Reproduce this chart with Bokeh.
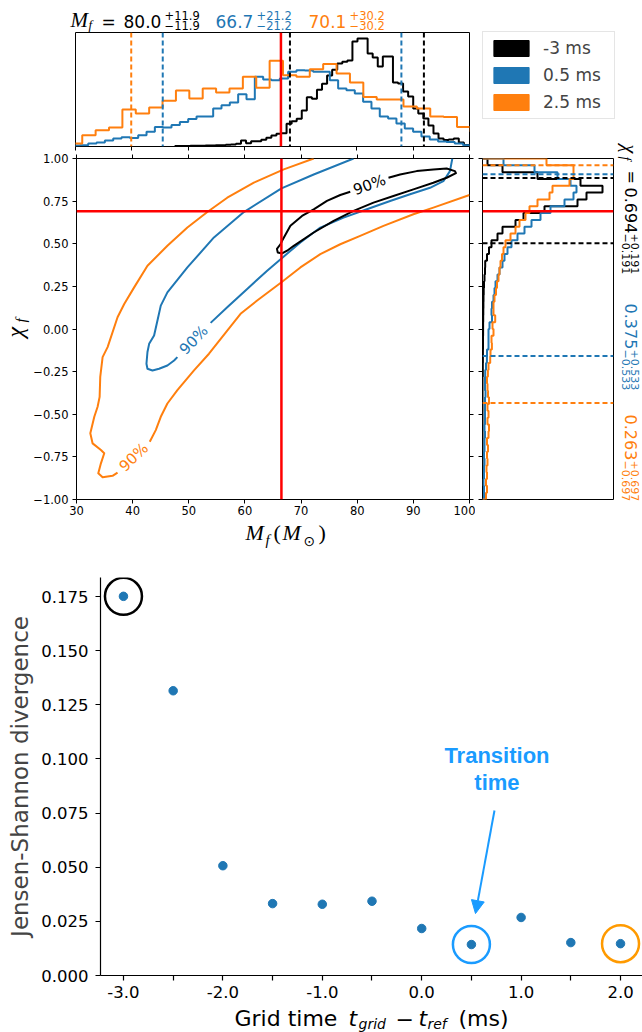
import numpy as np
from bokeh.plotting import figure
from bokeh.models import (Span, Label, LinearAxis, FixedTicker, Legend, LegendItem,
                          Arrow, NormalHead, Range1d, CustomJSTickFormatter,
                          PrintfTickFormatter, ColumnDataSource)
from bokeh.layouts import column, row
from bokeh.embed import file_html
from bokeh.resources import INLINE
from bokeh.core.properties import value

SANS = "DejaVu Sans"
SERIF = "Liberation Serif"
BOLD_SANS = "Liberation Sans"

# ------------------------------------------------------------------ data
series_labels = ["-3 ms", "0.5 ms", "2.5 ms"]
series_colors = ["#000000", "#1f77b4", "#ff7f0e"]

mf_median = [80.0, 66.7, 70.1]
mf_err = [11.9, 21.2, 30.2]
chi_median = [0.694, 0.375, 0.263]
chi_err = [0.191, 0.533, 0.697]
mf_true = 66.5
chi_true = 0.69

# final-mass histograms (step outlines)
mf_bin_start = [47.7, 29.3, 28.82]
mf_bin_width = [0.9, 1.48, 2.378]
mf_counts_black = [0.5, 0.5, 0.5, 0.7, 0.7, 0.7, 1.0, 1.0, 1.3, 1.3,
                   1.7, 2.0, 2.7, 6.0, 3.3, 5.3, 5.3, 6.7, 8.7, 11.0,
                   12.7, 13.3, 22.7, 25.3, 27.7, 36.0, 49.3, 47.7, 56.7, 62.7,
                   71.0, 76.7, 83.0, 84.7, 86.0, 105.0, 108.0, 108.0, 93.0, 89.0,
                   80.0, 90.0, 90.0, 64.0, 63.0, 55.0, 50.0, 38.0, 33.0, 28.0,
                   21.0, 13.0, 8.0, 6.5, 7.0, 8.0, 4.0, 1.5, 0.8]
mf_counts_blue = [1.0, 1.3, 3.0, 4.0, 6.0, 8.0, 9.3, 8.5, 11.3, 14.7,
                  19.5, 19.0, 21.5, 24.5, 27.5, 30.0, 30.0, 38.0, 41.3, 44.0,
                  52.3, 47.3, 69.7, 67.0, 66.3, 68.0, 74.7, 76.3, 76.0, 74.7,
                  74.7, 66.3, 58.0, 56.3, 53.0, 44.7, 38.0, 30.0, 28.0, 23.0,
                  18.0, 14.7, 10.0, 7.0, 5.0, 4.5, 3.0, 1.3]
mf_counts_orange = [3.0, 11.3, 16.3, 19.0, 37.0, 33.0, 39.0, 45.7, 56.0, 48.0,
                    58.0, 54.0, 58.0, 69.7, 58.7, 85.7, 71.3, 69.7, 77.3, 82.5,
                    73.0, 64.0, 49.5, 47.0, 47.0, 40.0, 38.0, 30.0, 29.5, 19.5,
                    15.0]

# final-spin histograms (bins of 0.04 from -1 to 1)
chi_bin_start = -1.0
chi_bin_width = 0.04
chi_counts_black = [0, 0, 0, 0, 0, 0, 0, 0, 0, 0,
                    0, 0, 0, 0, 0, 0, 0, 0, 0.3, 0.3,
                    0.4, 0.4, 0.5, 0.5, 0.6, 0.6, 0.7, 0.8, 0.9, 1.0,
                    1.2, 1.5, 2.0, 2.5, 2.7, 4.5, 6.5, 9.0, 15.0, 20.0,
                    33.0, 41.0, 62.0, 95.0, 104.0, 120.0, 98.0, 55.0, 20.0, 5.0]
chi_counts_blue = [1.5, 1.5, 1.0, 1.5, 1.5, 2.0, 1.5, 2.0, 2.0, 2.5,
                   2.0, 2.5, 2.5, 2.5, 2.5, 3.0, 2.5, 2.5, 2.7, 3.5,
                   4.4, 4.5, 6.0, 6.0, 6.0, 7.0, 9.5, 9.0, 9.5, 11.0,
                   12.0, 13.0, 15.0, 17.0, 20.0, 22.0, 25.0, 29.0, 35.0, 42.0,
                   49.0, 58.0, 68.0, 82.0, 91.0, 94.0, 88.0, 75.0, 52.0, 21.0]
chi_counts_orange = [3.5, 4.5, 3.5, 4.5, 4.0, 5.0, 4.5, 5.5, 4.5, 6.0,
                     6.5, 5.0, 6.0, 5.0, 6.5, 5.5, 5.0, 4.5, 5.4, 6.0,
                     7.7, 8.0, 9.4, 9.0, 11.0, 10.0, 12.7, 11.0, 11.0, 12.0,
                     13.5, 14.5, 16.0, 17.0, 18.0, 19.5, 21.0, 23.0, 28.0, 33.0,
                     37.0, 43.0, 47.0, 55.0, 67.0, 70.0, 87.0, 91.0, 91.0, 64.0]

# 90% credible contours, split where the inline "90%" labels sit
contour_black_mf = [[85.57, 87.64, 90.60, 93.56, 95.93, 97.41, 97.59, 95.93, 93.56, 90.01,
                     86.45, 82.90, 79.35, 75.80, 72.25, 68.70, 67.51, 66.62, 65.85, 65.70,
                     66.33, 66.62, 68.10, 70.17, 72.25, 74.61, 76.98, 78.76]]
contour_black_chi = [[0.887, 0.906, 0.926, 0.936, 0.941, 0.926, 0.914, 0.887, 0.858, 0.819,
                      0.780, 0.741, 0.693, 0.634, 0.566, 0.488, 0.459, 0.443, 0.449, 0.470,
                      0.497, 0.517, 0.605, 0.663, 0.702, 0.751, 0.786, 0.805]]
contour_blue_mf = [[79.35, 72.25, 66.51, 59.81, 54.48, 49.75, 46.19, 45.01, 44.42, 43.82,
                    42.94, 42.64, 42.46, 42.64, 43.53, 44.71, 46.19, 47.38, 47.97],
                   [53.89, 56.85, 60.40, 63.96, 66.51, 69.88, 73.43, 77.57, 81.72, 85.86,
                    89.41, 92.97, 95.34, 96.52, 96.94]]
contour_blue_chi = [[1.00, 0.906, 0.825, 0.686, 0.537, 0.361, 0.215, 0.137, 0.050, -0.038,
                     -0.087, -0.135, -0.204, -0.233, -0.243, -0.233, -0.214, -0.185, -0.165],
                    [0.036, 0.128, 0.235, 0.342, 0.414, 0.507, 0.595, 0.653, 0.702, 0.751,
                     0.790, 0.828, 0.867, 0.926, 1.00]]
contour_orange_mf = [[72.25, 66.92, 61.59, 56.85, 53.30, 49.75, 46.19, 42.64, 40.27, 38.50,
                      37.31, 35.54, 34.65, 34.23, 34.12, 33.76, 33.17, 32.46, 32.87, 34.35,
                      34.94, 34.35, 33.88, 34.65, 36.42, 37.31],
                     [43.05, 44.12, 45.01, 46.19, 47.97, 50.93, 53.60, 56.85, 59.22, 62.18,
                      66.51, 69.88, 73.43, 76.98, 80.53, 84.68, 90.01, 93.56, 100.0]]
contour_orange_chi = [[1.00, 0.936, 0.858, 0.770, 0.686, 0.595, 0.488, 0.371, 0.244, 0.147,
                       0.069, -0.106, -0.165, -0.281, -0.398, -0.456, -0.515, -0.612, -0.671, -0.710,
                       -0.729, -0.788, -0.846, -0.869, -0.861, -0.842],
                      [-0.661, -0.593, -0.515, -0.437, -0.359, -0.243, -0.145, -0.009, 0.089, 0.167,
                       0.274, 0.361, 0.439, 0.497, 0.546, 0.605, 0.673, 0.712, 0.786]]
contour_label_mf = [82.2, 50.9, 40.2]
contour_label_chi = [0.846, -0.065, -0.752]
contour_label_angle_deg = [20, 46, 44]

# Jensen-Shannon divergence vs grid time
grid_times = [-3.0, -2.5, -2.0, -1.5, -1.0, -0.5, 0.0, 0.5, 1.0, 1.5, 2.0]
js_divergence = [0.1751, 0.1315, 0.0507, 0.0332, 0.0329, 0.0343, 0.0217, 0.0143, 0.0268, 0.0152, 0.0147]
highlight_idx = [0, 7, 10]
highlight_colors = ["#000000", "#1a9bff", "#ff9a00"]
annot_color = "#1a9bff"

mf_ticks = [30, 40, 50, 60, 70, 80, 90, 100]
chi_ticks = [-1.0, -0.75, -0.5, -0.25, 0.0, 0.25, 0.5, 0.75, 1.0]
t_ticks = [-3.0, -2.5, -2.0, -1.5, -1.0, -0.5, 0.0, 0.5, 1.0, 1.5, 2.0]
js_ticks = [0.0, 0.025, 0.05, 0.075, 0.1, 0.125, 0.15, 0.175]

MID = 0.35  # distance from alphabetic baseline to the text's vertical middle, in em


# ------------------------------------------------------------------ helpers
def step_outline(start, width, counts):
    c = np.asarray(counts, dtype=float)
    edges = start + width * np.arange(len(c) + 1)
    xs = np.repeat(edges, 2)
    ys = np.concatenate([[0.0], np.repeat(c, 2), [0.0]])
    return xs, ys


def make_fig(no_align=False, **kw):
    if no_align:
        try:
            return figure(frame_align=False, **kw)
        except Exception:
            pass
    return figure(**kw)


def base_fig(w, h, xr, yr, bl, br, bt, bb, outline=True, no_align=False):
    p = make_fig(no_align=no_align, width=w, height=h, x_range=Range1d(*xr), y_range=Range1d(*yr),
                 output_backend="svg", toolbar_location=None, title=None,
                 x_axis_location=None, y_axis_location=None,
                 min_border_left=bl, min_border_right=br,
                 min_border_top=bt, min_border_bottom=bb)
    p.grid.visible = False
    p.background_fill_color = "white"
    p.border_fill_color = "white"
    if outline:
        p.outline_line_color = "black"
        p.outline_line_width = 1
    else:
        p.outline_line_color = None
    return p


def strip(x0, y0, w, h):
    """Text-only panel whose data coordinates equal page pixels."""
    p = make_fig(no_align=True, width=w, height=h, x_range=Range1d(x0, x0 + w),
                 y_range=Range1d(y0 + h, y0),
                 output_backend="svg", toolbar_location=None, title=None,
                 x_axis_location=None, y_axis_location=None, min_border=0)
    p.grid.visible = False
    p.outline_line_color = None
    p.background_fill_color = "white"
    p.border_fill_color = "white"
    return p


def add_axis(p, side, ticks, labels=True, size="11px", standoff=4, tick_out=4,
             formatter=None, line=False, line_width=1):
    ax = LinearAxis(ticker=FixedTicker(ticks=ticks))
    ax.major_tick_in = 0
    ax.major_tick_out = tick_out
    ax.minor_tick_in = 0
    ax.minor_tick_out = 0
    ax.major_tick_line_color = "black"
    ax.major_tick_line_width = line_width
    ax.axis_line_color = "black" if line else None
    ax.axis_line_width = line_width
    if labels:
        ax.major_label_text_font = SANS
        ax.major_label_text_font_size = size
        ax.major_label_text_color = "black"
        ax.major_label_standoff = standoff
    else:
        ax.major_label_text_color = None
        ax.major_label_text_font_size = "1px"
        ax.major_label_standoff = 0
    if formatter is not None:
        ax.formatter = formatter
    p.add_layout(ax, side)
    return ax


def stxt(p, x, y, text, size, color="black", font=SANS, style="normal", rot=0):
    """x, y: start of the text on its alphabetic baseline (page pixels).
    rot: 0 horizontal, -1 reading downwards, +1 reading upwards."""
    d = MID * size
    if rot == 0:
        ax_, ay_, ang = x, y - d, 0.0
    elif rot < 0:
        ax_, ay_, ang = x + d, y, -np.pi / 2
    else:
        ax_, ay_, ang = x - d, y, np.pi / 2
    p.add_layout(Label(x=ax_, y=ay_, text=text, text_font=font, text_font_size=f"{size}px",
                       text_color=color, text_font_style=style, angle=ang,
                       text_align="left", text_baseline="middle"))


mf_counts = [mf_counts_black, mf_counts_blue, mf_counts_orange]
chi_counts = [chi_counts_black, chi_counts_blue, chi_counts_orange]

# ------------------------------------------------------------------ top strip: M_f summary
T1 = strip(0, 0, 475, 32)
stxt(T1, 70, 26.5, "M", 21, font=SERIF, style="italic")
stxt(T1, 88, 28.5, "f", 13, font=SERIF, style="italic")
stxt(T1, 101, 27, "=", 17)
num_x = [123, 215, 308]
sup_x = [164, 256, 349]
for i in range(3):
    stxt(T1, num_x[i], 27, f"{mf_median[i]:.1f}", 17, color=series_colors[i])
    stxt(T1, sup_x[i], 19, f"+{mf_err[i]:.1f}", 11.5, color=series_colors[i])
    stxt(T1, sup_x[i], 29, f"\u2212{mf_err[i]:.1f}", 11.5, color=series_colors[i])

# ------------------------------------------------------------------ top histogram (M_f)
pA = base_fig(475, 120, (30, 100), (0, 114), 75, 6, 0, 6)
add_axis(pA, "below", mf_ticks, labels=False, tick_out=4)
for i in range(3):
    xs, ys = step_outline(mf_bin_start[i], mf_bin_width[i], mf_counts[i])
    pA.line(xs, ys, line_color=series_colors[i], line_width=2)
for i in range(3):
    for loc in (mf_median[i] - mf_err[i], mf_median[i] + mf_err[i]):
        pA.add_layout(Span(location=loc, dimension="height", line_color=series_colors[i],
                           line_dash="5 3", line_width=2))
pA.add_layout(Span(location=mf_true, dimension="height", line_color="red", line_width=2.5))

# ------------------------------------------------------------------ y-label strip (chi_f)
T4 = strip(0, 152, 30, 367)
stxt(T4, 23, 337, "\u03c7", 24, font=SERIF, style="italic", rot=1)
stxt(T4, 26, 322, "f", 15, font=SERIF, style="italic", rot=1)

# ------------------------------------------------------------------ main 2D panel
pC = base_fig(445, 367, (30, 100), (-1, 1), 45, 6, 6, 20)
add_axis(pC, "below", mf_ticks, labels=True, size="11.5px", standoff=2)
add_axis(pC, "left", chi_ticks, labels=True, size="11.5px", standoff=4,
         formatter=CustomJSTickFormatter(code="return tick.toFixed(2).replace('-', '\u2212');"))
add_axis(pC, "above", mf_ticks, labels=False)
add_axis(pC, "right", chi_ticks, labels=False)

contours = [(contour_orange_mf, contour_orange_chi, series_colors[2]),
            (contour_blue_mf, contour_blue_chi, series_colors[1]),
            (contour_black_mf, contour_black_chi, series_colors[0])]
for mfs, chis, col in contours:
    for xs, ys in zip(mfs, chis):
        pC.line(xs, ys, line_color=col, line_width=2, line_join="round")
lab_src = ColumnDataSource(dict(
    x=contour_label_mf, y=contour_label_chi, t=["90%"] * 3,
    a=[np.deg2rad(d) for d in contour_label_angle_deg],
    c=[series_colors[0], series_colors[1], series_colors[2]]))
pC.text(x="x", y="y", text="t", angle="a", text_color="c", source=lab_src,
        text_font=value(SANS), text_font_size=value("15px"),
        text_align="center", text_baseline="middle")
pC.add_layout(Span(location=mf_true, dimension="height", line_color="red", line_width=2.5))
pC.add_layout(Span(location=chi_true, dimension="width", line_color="red", line_width=2.5))

# ------------------------------------------------------------------ x-label strip  M_f(M_sun)
T3 = strip(0, 519, 475, 31)
stxt(T3, 245, 540, "M", 22, font=SERIF, style="italic")
stxt(T3, 265, 545, "f", 15, font=SERIF, style="italic")
stxt(T3, 273, 540, "(", 22, font=SERIF)
stxt(T3, 282, 540, "M", 22, font=SERIF, style="italic")
stxt(T3, 303, 545, "\u2299", 14, font=SANS)
stxt(T3, 318, 540, ")", 22, font=SERIF)

# ------------------------------------------------------------------ legend panel
pB = base_fig(140, 152, (0, 1), (0, 1), 0, 0, 0, 0, outline=False, no_align=True)
items = []
for lab, col in zip(series_labels, series_colors):
    r = pB.quad(left=[5], right=[6], bottom=[5], top=[6], fill_color=col, line_color=col)
    items.append(LegendItem(label=lab, renderers=[r]))
legend = Legend(items=items, location=(7, 33), padding=6, spacing=7, margin=0,
                glyph_width=44, glyph_height=20, label_height=20, label_width=65,
                label_standoff=10, label_text_font=SANS, label_text_font_size="17px",
                border_line_color="#cccccc", border_line_width=1,
                background_fill_color="white", background_fill_alpha=1.0)
pB.add_layout(legend)

# ------------------------------------------------------------------ right histogram (chi_f)
pD = base_fig(140, 398, (0, 131), (-1, 1), 7, 2, 6, 51)
add_axis(pD, "left", chi_ticks, labels=False)
for i in range(3):
    ys, xs = step_outline(chi_bin_start, chi_bin_width, chi_counts[i])
    pD.line(xs, ys, line_color=series_colors[i], line_width=2)
for i in range(3):
    for loc in (chi_median[i] - chi_err[i], chi_median[i] + chi_err[i]):
        pD.add_layout(Span(location=loc, dimension="width", line_color=series_colors[i],
                           line_dash="5 3", line_width=2))
pD.add_layout(Span(location=chi_true, dimension="width", line_color="red", line_width=2.5))

# ------------------------------------------------------------------ right strip: chi_f summary (rotated)
T2 = strip(615, 0, 27, 550)
stxt(T2, 622.5, 144, "\u03c7", 20, font=SERIF, style="italic", rot=-1)
stxt(T2, 620, 156, "f", 14, font=SERIF, style="italic", rot=-1)
stxt(T2, 625, 170, "=", 16, rot=-1)
num_y = [187, 303, 414]
sup_y = [233, 349, 460]
for i in range(3):
    stxt(T2, 625, num_y[i], f"{chi_median[i]:.3f}", 16, color=series_colors[i], rot=-1)
    stxt(T2, 630.5, sup_y[i], f"+{chi_err[i]:.3f}", 11, color=series_colors[i], rot=-1)
    stxt(T2, 621.5, sup_y[i], f"\u2212{chi_err[i]:.3f}", 11, color=series_colors[i], rot=-1)

# ------------------------------------------------------------------ bottom JS divergence panel
pE = base_fig(642, 455, (-3.231, 2.221), (0, 0.1838), 100, 0, 27, 30, outline=False)
add_axis(pE, "below", t_ticks, labels=True, size="16.5px", standoff=5, tick_out=5,
         line=True, line_width=1.2,
         formatter=CustomJSTickFormatter(
             code="return Math.abs(tick - Math.round(tick)) < 1e-6 ? tick.toFixed(1) : '';"))
axE = add_axis(pE, "left", js_ticks, labels=True, size="16.5px", standoff=7, tick_out=5,
               line=True, line_width=1.2, formatter=PrintfTickFormatter(format="%.3f"))
axE.axis_label = "Jensen-Shannon divergence"
axE.axis_label_text_font = SANS
axE.axis_label_text_font_size = "23px"
axE.axis_label_text_font_style = "normal"
axE.axis_label_standoff = 5

pE.scatter(grid_times, js_divergence, size=8.5, color="#1f77b4")
pE.scatter([grid_times[i] for i in highlight_idx], [js_divergence[i] for i in highlight_idx],
           marker="circle", size=37, fill_color=None, line_color=highlight_colors, line_width=2.5)

pE.add_layout(Arrow(end=NormalHead(size=13, fill_color=annot_color, line_color=annot_color),
                    x_start=0.732, y_start=0.0762, x_end=0.541, y_end=0.0286,
                    line_color=annot_color, line_width=2))
pE.add_layout(Label(x=0.757, y=0.1014, text="Transition", text_align="center",
                    text_baseline="middle", text_font=BOLD_SANS, text_font_style="bold",
                    text_font_size="22px", text_color=annot_color))
pE.add_layout(Label(x=0.757, y=0.0890, text="time", text_align="center",
                    text_baseline="middle", text_font=BOLD_SANS, text_font_style="bold",
                    text_font_size="22px", text_color=annot_color))

# ------------------------------------------------------------------ bottom x-label strip
T5 = strip(0, 1005, 642, 27)
stxt(T5, 234, 1026, "Grid time", 22)
stxt(T5, 348, 1026, "t", 22, style="italic")
stxt(T5, 358, 1028, "grid", 14, style="italic")
stxt(T5, 395, 1026, "\u2212", 22)
stxt(T5, 418, 1026, "t", 22, style="italic")
stxt(T5, 427, 1028, "ref", 14, style="italic")
stxt(T5, 458, 1026, "(ms)", 22)

col1 = column(T1, pA, row(T4, pC), T3)
col2 = column(pB, pD)
layout = column(row(col1, col2, T2), pE, T5)
open("out.html", "w").write(file_html(layout, INLINE))
